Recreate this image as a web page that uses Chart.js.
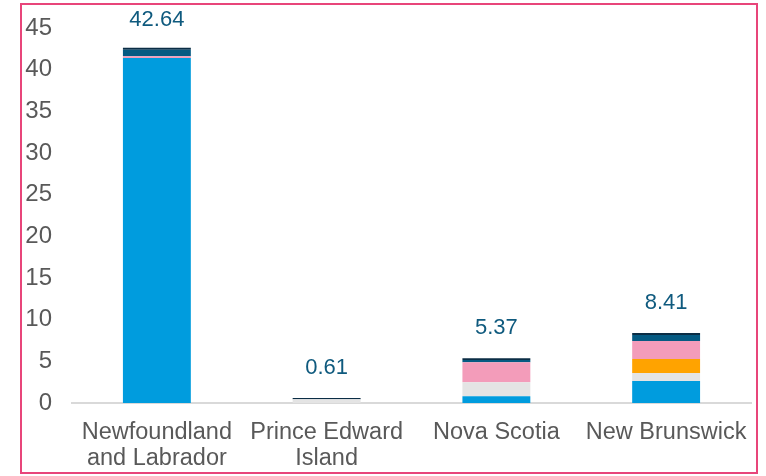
<!DOCTYPE html>
<html>
<head>
<meta charset="utf-8">
<script src="https://cdn.jsdelivr.net/npm/chart.js@4"></script>
<style>
  body { margin: 0; background: #fff; }
  #frame {
    position: absolute; left: 20px; top: 3px;
    width: 734px; height: 467px;
    border: 2px solid #E8457A;
  }
  #wrap { position: absolute; left: 0; top: 0; width: 766px; height: 476px; }
</style>
</head>
<body>
<div id="frame"></div>
<div id="wrap"><canvas id="chart" width="766" height="476"></canvas></div>
<script>
const provinces = [['Newfoundland', 'and Labrador'], ['Prince Edward', 'Island'], 'Nova Scotia', 'New Brunswick'];
const totals = [42.64, 0.61, 5.37, 8.41];

// stacked segments, bottom to top
const seriesBlue   = [41.4, 0,    0.8,  2.65];
const seriesGray   = [0,    0.45, 1.7,  0.96];
const seriesOrange = [0,    0,    0,    1.68];
const seriesPink   = [0.2,  0,    2.4,  2.16];
const seriesTeal   = [0.8,  0,    0.25, 0.72];
const seriesNavy   = [0.24, 0.16, 0.22, 0.24];

const yTicks = [0, 5, 10, 15, 20, 25, 30, 35, 40, 45];

const font = "'Liberation Sans', Arial, sans-serif";

// total above each stack
const totalLabels = {
    id: 'totalLabels',
    afterDatasetsDraw(chart) {
        const c = chart.ctx;
        const x = chart.scales.x, y = chart.scales.y;
        c.save();
        c.font = '22px ' + font;
        c.fillStyle = '#0F5A7E';
        c.textAlign = 'center';
        c.textBaseline = 'middle';
        totals.forEach((t, i) => {
            const py = Math.max(20, y.getPixelForValue(t) - 30);
            c.fillText(t.toFixed(2), x.getPixelForValue(i), py);
        });
        c.restore();
    }
};

function ds(label, data, color) {
    return { label: label, data: data, backgroundColor: color, borderWidth: 0,
             categoryPercentage: 1, barPercentage: 0.4 };
}

new Chart(document.getElementById('chart'), {
    type: 'bar',
    data: {
        labels: provinces,
        datasets: [
            ds('Series 1', seriesBlue, '#009CDE'),
            ds('Series 2', seriesGray, '#E4E4E4'),
            ds('Series 3', seriesOrange, '#FFA300'),
            ds('Series 4', seriesPink, '#F39CBA'),
            ds('Series 5', seriesTeal, '#055A82'),
            ds('Series 6', seriesNavy, '#0B2D45')
        ]
    },
    options: {
        responsive: false,
        animation: false,
        layout: { padding: { left: 20, right: 15, top: 28, bottom: 10 } },
        plugins: { legend: { display: false }, tooltip: { enabled: false } },
        scales: {
            x: {
                stacked: true,
                grid: { display: false, drawTicks: false },
                border: { color: '#D9D9D9', width: 2 },
                ticks: { color: '#595959', font: { family: font, size: 23.5, lineHeight: '26px' }, padding: 17, maxRotation: 0 },
                afterFit: s => { s.height = 63; s.paddingLeft = 0; s.paddingRight = 0; }
            },
            y: {
                stacked: true,
                min: 0, max: 45,
                grid: { display: false, drawTicks: false },
                border: { display: false },
                afterBuildTicks: s => { s.ticks = yTicks.map(v => ({ value: v })); },
                ticks: { color: '#595959', font: { family: font, size: 24 }, padding: 20 },
                afterFit: s => { s.width = 52; s.paddingTop = 0; s.paddingBottom = 0; }
            }
        }
    },
    plugins: [totalLabels]
});
</script>
</body>
</html>
